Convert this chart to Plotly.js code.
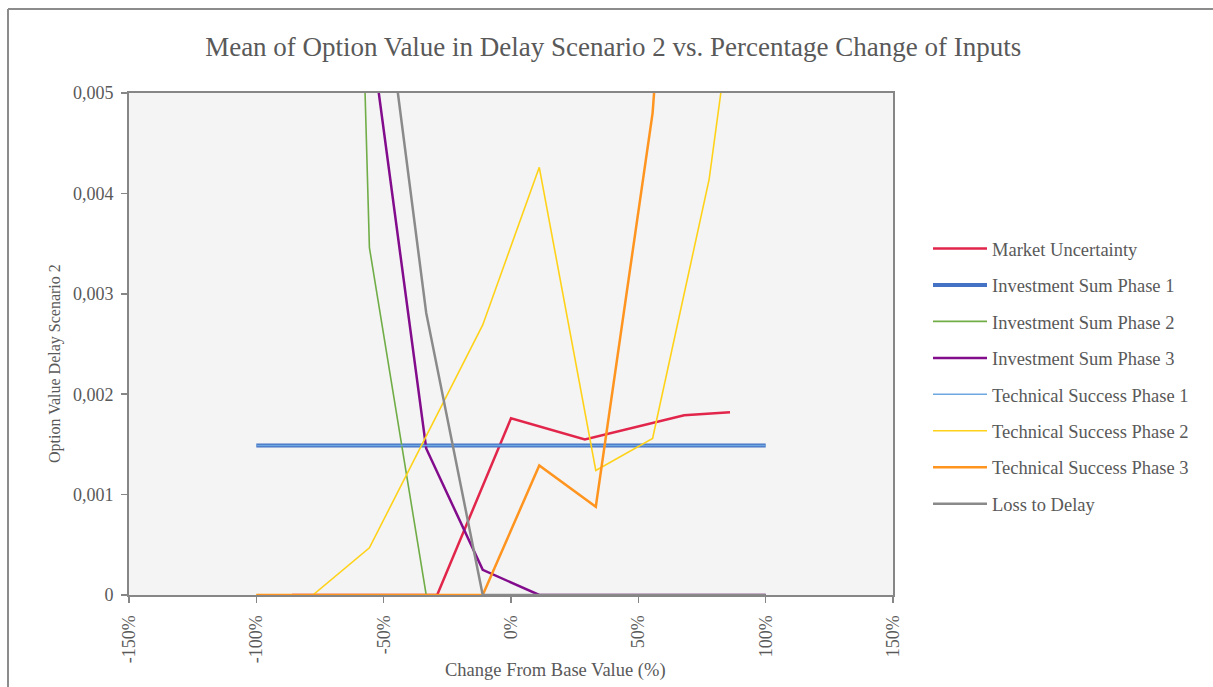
<!DOCTYPE html>
<html>
<head>
<meta charset="utf-8">
<script src="https://cdn.plot.ly/plotly-3.0.1.min.js"></script>
<style>html,body{margin:0;padding:0;background:#fff;}#chart{width:1213px;height:687px;}</style>
</head>
<body>
<div id="chart"></div>
<script>
// ---- data ----
const changePct = [-100, -77.8, -55.6, -33.3, -11.1, 11.1, 33.3, 55.6, 77.8, 100];
const marketPct = [-86, -57, -29, 0, 29, 68, 86];

const marketUncertainty   = [0, 0, 0, 0.00176, 0.00155, 0.00179, 0.00182];
const investmentSumPhase1 = [0.00149, 0.00149, 0.00149, 0.00149, 0.00149, 0.00149, 0.00149, 0.00149, 0.00149, 0.00149];
const investmentSumPhase2 = [0.045, 0.0235, 0.00346, 0, 0, 0, 0, 0, 0, 0];
const investmentSumPhase3 = [0.02, 0.012, 0.0057, 0.00146, 0.00025, 0, 0, 0, 0, 0];
const technicalSuccessPhase1 = [0.00149, 0.00149, 0.00149, 0.00149, 0.00149, 0.00149, 0.00149, 0.00149, 0.00149, 0.00149];
const technicalSuccessPhase2 = [0, 0, 0.00047, 0.00158, 0.00269, 0.00426, 0.00124, 0.00156, 0.00414, 0.0083];
const technicalSuccessPhase3 = [0, 0, 0, 0, 0, 0.00129, 0.00088, 0.0048, 0.0125, 0.02];
const lossToDelay = [0.03, 0.015, 0.0072, 0.00281, 0, 0, 0, 0, 0, 0];

const seriesNames = ["Market Uncertainty", "Investment Sum Phase 1", "Investment Sum Phase 2",
  "Investment Sum Phase 3", "Technical Success Phase 1", "Technical Success Phase 2",
  "Technical Success Phase 3", "Loss to Delay"];

const xTickVals = [-150, -100, -50, 0, 50, 100, 150];
const xTickText = ["-150%", "-100%", "-50%", "0%", "50%", "100%", "150%"];
const yTickVals = [0, 0.001, 0.002, 0.003, 0.004, 0.005];
const yTickText = ["0", "0,001", "0,002", "0,003", "0,004", "0,005"];

// ---- styles ----
const styles = [
  {color: "#E2264B", width: 2.5},
  {color: "#4472C4", width: 4},
  {color: "#70AD47", width: 1.6},
  {color: "#820C8C", width: 2.5},
  {color: "#6FA8E0", width: 1.5},
  {color: "#FFD21A", width: 1.6},
  {color: "#FF941F", width: 2.5},
  {color: "#8A8A8A", width: 2.5}
];
const ys = [marketUncertainty, investmentSumPhase1, investmentSumPhase2, investmentSumPhase3,
  technicalSuccessPhase1, technicalSuccessPhase2, technicalSuccessPhase3, lossToDelay];

const traces = ys.map((y, i) => ({
  type: "scatter", mode: "lines",
  x: i === 0 ? marketPct : changePct,
  y: y,
  name: seriesNames[i],
  legendgroup: "g" + i,
  line: {color: styles[i].color, width: styles[i].width},
  cliponaxis: true
}));

const txt = "#595959";
const font = "Liberation Serif, Times New Roman, serif";
const W = 764, H = 502, L = 129, T = 93;
const px = v => (v - L) / W;
const py = v => (T + H - v) / H;

const layout = {
  width: 1213, height: 687,
  margin: {l: 129, r: 320, t: 93, b: 92},
  paper_bgcolor: "#ffffff",
  plot_bgcolor: "#F4F4F4",
  font: {family: font, color: txt, size: 18},
  title: {text: "Mean of Option Value in Delay Scenario 2 vs. Percentage Change of Inputs",
    x: 0.5055, xref: "container", xanchor: "center", y: 0.932, yref: "container", yanchor: "middle",
    font: {family: font, size: 27, color: txt}},
  xaxis: {range: [-150, 150], tickvals: xTickVals, ticktext: xTickText, tickangle: -90,
    ticks: "outside", ticklen: 6, tickcolor: "#868686", tickwidth: 1.5, ticklabelstandoff: 5,
    showline: true, linecolor: "#868686", linewidth: 2, mirror: true,
    showgrid: false, zeroline: false, tickfont: {size: 18, color: txt}, fixedrange: true},
  yaxis: {range: [0, 0.005], tickvals: yTickVals, ticktext: yTickText,
    ticks: "outside", ticklen: 6, tickcolor: "#868686", tickwidth: 1.5, ticklabelstandoff: 4,
    showline: true, linecolor: "#868686", linewidth: 2, mirror: true,
    showgrid: false, zeroline: false, tickfont: {size: 18, color: txt}, fixedrange: true},
  showlegend: true,
  legend: {x: px(928), y: py(230), xanchor: "left", yanchor: "top",
    traceorder: "grouped", tracegroupgap: 9.4, itemwidth: 54,
    font: {family: font, size: 18.5, color: txt}, bgcolor: "rgba(0,0,0,0)"},
  annotations: [
    {text: "Change From Base Value (%)", xref: "paper", yref: "paper", x: px(555), y: py(670),
      xanchor: "center", yanchor: "middle", showarrow: false, font: {size: 18.5, color: txt}},
    {text: "Option Value Delay Scenario 2", xref: "paper", yref: "paper", x: px(55), y: py(364),
      xanchor: "center", yanchor: "middle", textangle: -90, showarrow: false, font: {size: 16, color: txt}}
  ],
  shapes: [
    {type: "line", xref: "paper", yref: "paper", x0: px(8), x1: px(1213), y0: py(9), y1: py(9),
      line: {color: "#8C8C8C", width: 2}},
    {type: "line", xref: "paper", yref: "paper", x0: px(8), x1: px(8), y0: py(9), y1: py(690),
      line: {color: "#8C8C8C", width: 2}}
  ]
};

Plotly.newPlot("chart", traces, layout, {displayModeBar: false, staticPlot: true});
</script>
</body>
</html>
